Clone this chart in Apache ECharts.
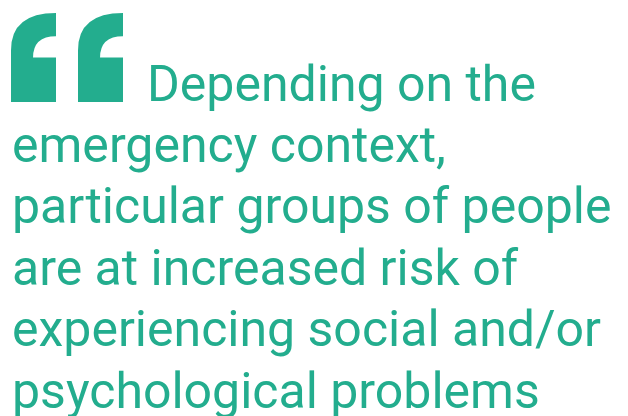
<!DOCTYPE html>
<html>
<head>
<meta charset="utf-8">
<script src="https://cdn.jsdelivr.net/npm/echarts@6/dist/echarts.min.js"></script>
<style>
  html, body { margin: 0; padding: 0; background: #fff; }
  #main { width: 628px; height: 416px; }
</style>
</head>
<body>
<div id="main"></div>
<script>
// quote text, one entry per printed line
const quoteLines = [
    'Depending on the',
    'emergency context,',
    'particular groups of people',
    'are at increased risk of',
    'experiencing social and/or',
    'psychological problems'
];
// left edge of each line (first line sits next to the quote marks)
const lineX = [147, 12, 12, 12, 12, 12];
const quoteMarkX = [11, 78];

const green = '#23ad8e';
const fontSize = 50;
const lineGap = 61.4;
const firstLineBottom = 113;

// one opening quote mark: a block with a curved tail, in a w x h box
echarts.graphic.registerShape('quoteMark', echarts.graphic.extendShape({
    shape: { x: 0, y: 0, w: 45, h: 89 },
    buildPath: (ctx, s) => {
        const x = s.x, y = s.y, w = s.w, h = s.h;
        ctx.moveTo(x, y + h);
        ctx.lineTo(x, y + h * 0.42);
        ctx.quadraticCurveTo(x, y, x + w, y);
        ctx.lineTo(x + w, y + h * 0.26);
        ctx.quadraticCurveTo(x + w * 0.49, y + h * 0.26, x + w * 0.49, y + h * 0.5);
        ctx.lineTo(x + w, y + h * 0.5);
        ctx.lineTo(x + w, y + h);
        ctx.closePath();
    }
}));

const chart = echarts.init(document.getElementById('main'));

const elements = [];
quoteMarkX.forEach((x) => {
    elements.push({
        type: 'quoteMark',
        shape: { x: x, y: 13, w: 45, h: 89 },
        style: { fill: green }
    });
});
quoteLines.forEach((line, i) => {
    elements.push({
        type: 'text',
        x: lineX[i],
        y: firstLineBottom + i * lineGap,
        style: {
            text: line,
            fill: green,
            font: fontSize + 'px Roboto',
            textAlign: 'left',
            textVerticalAlign: 'bottom'
        }
    });
});

chart.setOption({
    backgroundColor: '#fff',
    animation: false,
    graphic: { elements: elements }
});

window.addEventListener('resize', () => chart.resize(), false);
</script>
</body>
</html>
